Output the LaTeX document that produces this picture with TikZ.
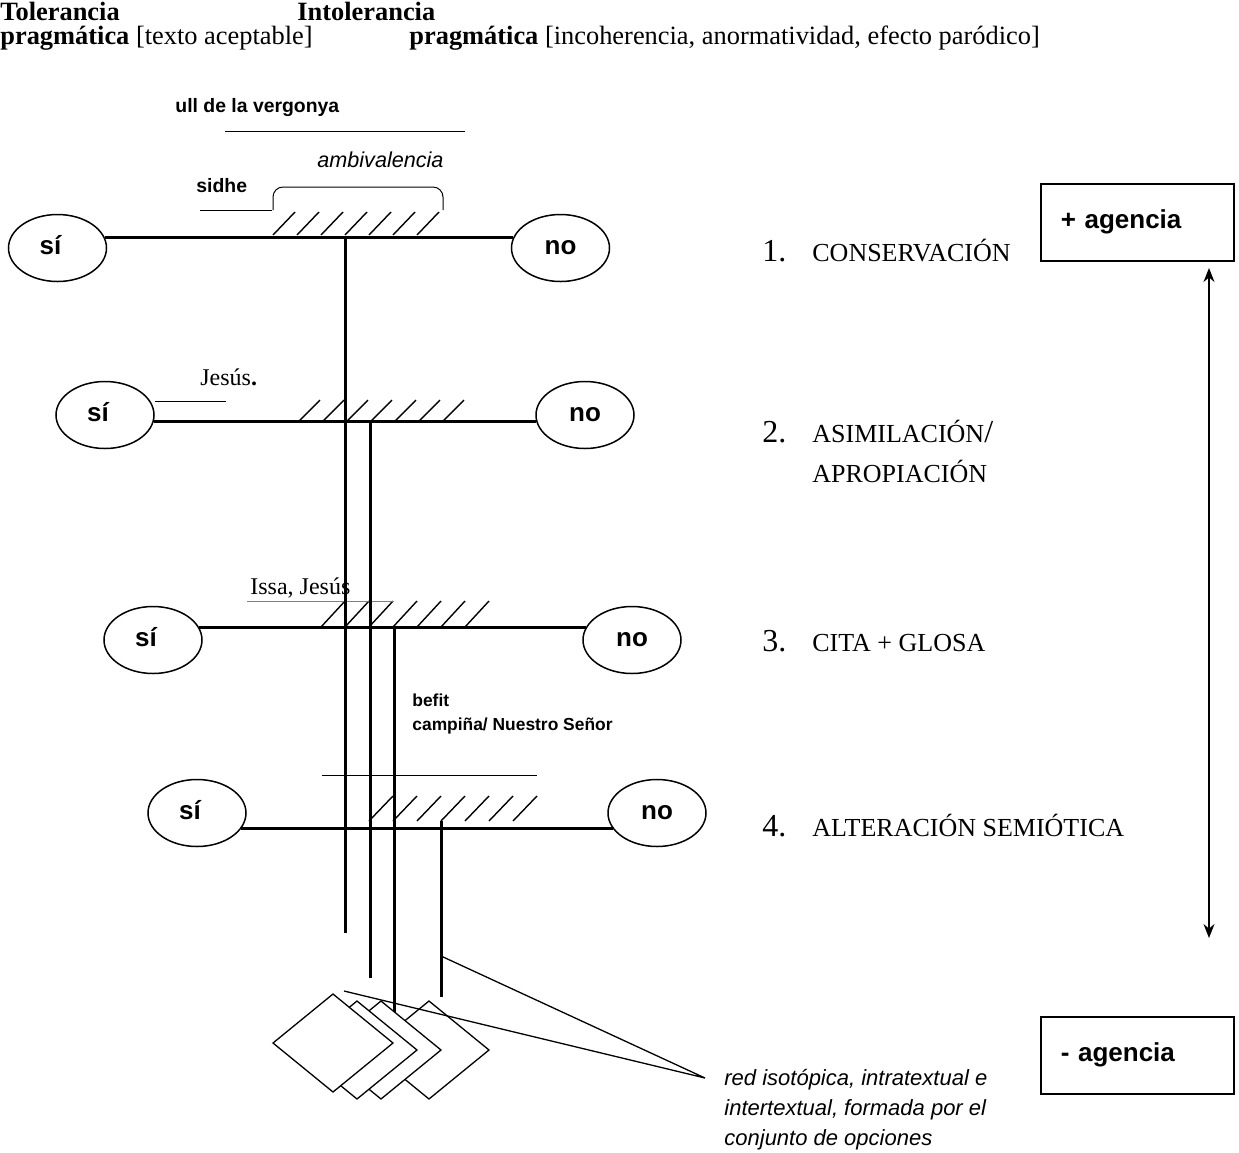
\documentclass[tikz,border=0pt]{standalone}
\usepackage{fontspec}
\setmainfont{Liberation Serif}
\setsansfont{Liberation Sans}
\usetikzlibrary{shapes.geometric,arrows.meta}

\begin{document}
\begin{tikzpicture}[x=0.5pt, y=-0.5pt,
    opt/.style={ellipse, draw, line width=0.75pt, inner sep=0pt, minimum width=49pt, minimum height=33.5pt,
        text height=6.8pt, text depth=0pt, font=\sffamily\bfseries\fontsize{13}{15}\selectfont},
    axisline/.style={line width=1.5pt},
    stem/.style={line width=1.5pt},
    hatch/.style={line width=0.7pt},
    fine/.style={line width=0.5pt},
    headtxt/.style={anchor=base west, inner sep=0pt, font=\fontsize{13.2}{16}\selectfont},
    lbl/.style={anchor=west, inner sep=0pt, font=\sffamily\bfseries\fontsize{9.7}{11}\selectfont},
    gloss/.style={anchor=base west, inner sep=0pt, font=\fontsize{12}{14}\selectfont},
    numtxt/.style={anchor=base west, inner sep=0pt, font=\fontsize{16}{18}\selectfont},
    stage/.style={anchor=base west, inner sep=0pt, font=\fontsize{13}{15}\selectfont},
    agbox/.style={draw, line width=0.75pt, anchor=north west, minimum height=38.5pt, text width=76.5pt,
        inner xsep=10pt, align=left, font=\sffamily\bfseries\fontsize{13}{15}\selectfont},
    card/.style={line width=0.65pt, fill=white},
    ptr/.style={line width=0.65pt}]
    \useasboundingbox (0,0) rectangle (1239,1153);

    % header
    \node[headtxt] (tol) at (0,20) {\textbf{Tolerancia}};
    \node[headtxt] (intol) at (297,20) {\textbf{Intolerancia}};
    \node[headtxt] (tolp) at (0,44) {\textbf{pragmática} [texto aceptable]};
    \node[headtxt] (intolp) at (409,44) {\textbf{pragmática} [incoherencia, anormatividad, efecto paródico]};

    % the four levels
    \node[opt] (si1) at (57.5,248) {sí\kern7pt};
    \node[opt] (no1) at (560.5,248) {no};
    \node[opt] (si2) at (105,415) {sí\kern7pt};
    \node[opt] (no2) at (585,415) {no};
    \node[opt] (si3) at (153,640) {sí\kern7pt};
    \node[opt] (no3) at (632,640) {no};
    \node[opt] (si4) at (197,813) {sí\kern7pt};
    \node[opt] (no4) at (657,813) {no};

    \draw[axisline] (si1.13) -- (no1.167);
    \draw[axisline] (si2.-8) -- (no2.-172);
    \draw[axisline] (si3.15) -- (no3.165);
    \draw[axisline] (si4.-19) -- (no4.-161);

    \foreach \x in {273,297,...,417} \draw[hatch] (\x,235) -- ++(22,-23);
    \foreach \x in {298,322,...,442} \draw[hatch] (\x,422) -- ++(22,-22);
    \foreach \x in {321,345,...,465} \draw[hatch] (\x,627) -- ++(24,-26);
    \foreach \x in {369,393,...,513} \draw[hatch] (\x,821) -- ++(24,-25);

    % level 1 labels
    \node[lbl] (ull) at (175,108) {ull de la vergonya};
    \draw[fine] (225,131) -- (465,131);
    \node[lbl, font=\sffamily\itshape\fontsize{10.8}{12}\selectfont] (amb) at (317,160) {ambivalencia};
    \node[lbl] (sidhe) at (196,186) {sidhe};
    \draw[fine] (200,210) -- (272,210);
    \draw[fine, rounded corners=5pt] (273,210) -- (273,187) -- (443,187) -- (443,210);

    % level 2 and 3 labels
    \node[gloss] (jes) at (200,385) {Jesús\textbf{.}};
    \draw[fine] (155,401) -- (226,401);
    \node[gloss] (issa) at (250,594) {Issa, Jesús};
    \draw[fine, gray] (247,601) -- (393,601);
    \node[lbl, font=\sffamily\bfseries\fontsize{8.7}{10}\selectfont] (befit) at (412,700) {befit};
    \node[lbl, font=\sffamily\bfseries\fontsize{8.7}{10}\selectfont] (camp) at (412,726) {campiña/ Nuestro Señor};
    \draw[fine] (322,775) -- (537,775);

    % stems
    \coordinate (s1) at (345,237);  \coordinate (s1e) at (345,933);
    \coordinate (s2) at (370,422);  \coordinate (s2e) at (370,978);
    \coordinate (s3) at (394,628);  \coordinate (s3e) at (394,1012);
    \coordinate (s4) at (441,821);  \coordinate (s4e) at (441,997);
    \draw[stem] (s1) -- (s1e);
    \draw[stem] (s2) -- (s2e);
    \draw[stem] (s3) -- (s3e);
    \draw[stem] (s4) -- (s4e);

    % stacked options
    \foreach \cx/\cy in {429/1050, 381/1050, 357/1050, 333/1043}
        \draw[card] (\cx-60,\cy) -- (\cx,\cy-49) -- (\cx+60,\cy) -- (\cx,\cy+49) -- cycle;

    \coordinate (fork) at (441,956);
    \coordinate (low) at (344,991);
    \coordinate (conv) at (705,1078);
    \draw[ptr] (fork) -- (conv) -- (low);
    \node[anchor=north west, inner sep=0pt, align=left, font=\sffamily\itshape\fontsize{11}{15}\selectfont]
        (red) at (724,1069) {red isotópica, intratextual e\\intertextual, formada por el\\conjunto de opciones};

    % stages
    \node[numtxt] (n1) at (762,261) {1.};
    \node[stage] (c1) at (812,261) {CONSERVACIÓN};
    \node[numtxt] (n2) at (762,442) {2.};
    \node[stage] (c2) at (812,442) {ASIMILACIÓN{\fontsize{16}{18}\selectfont/}};
    \node[stage] (c2b) at (812,482) {APROPIACIÓN};
    \node[numtxt] (n3) at (762,651) {3.};
    \node[stage] (c3) at (812,651) {CITA + GLOSA};
    \node[numtxt] (n4) at (762,836) {4.};
    \node[stage] (c4) at (812,836) {ALTERACIÓN SEMIÓTICA};

    % agency scale
    \node[agbox] (plus) at (1040,183) {+ agencia};
    \node[agbox] (minus) at (1040,1016) {- agencia};
    \coordinate (up) at (1209,268);
    \coordinate (down) at (1209,938);
    \draw[line width=0.65pt, {Stealth[length=7pt,width=5.5pt]}-{Stealth[length=7pt,width=5.5pt]}] (up) -- (down);
\end{tikzpicture}
\end{document}
